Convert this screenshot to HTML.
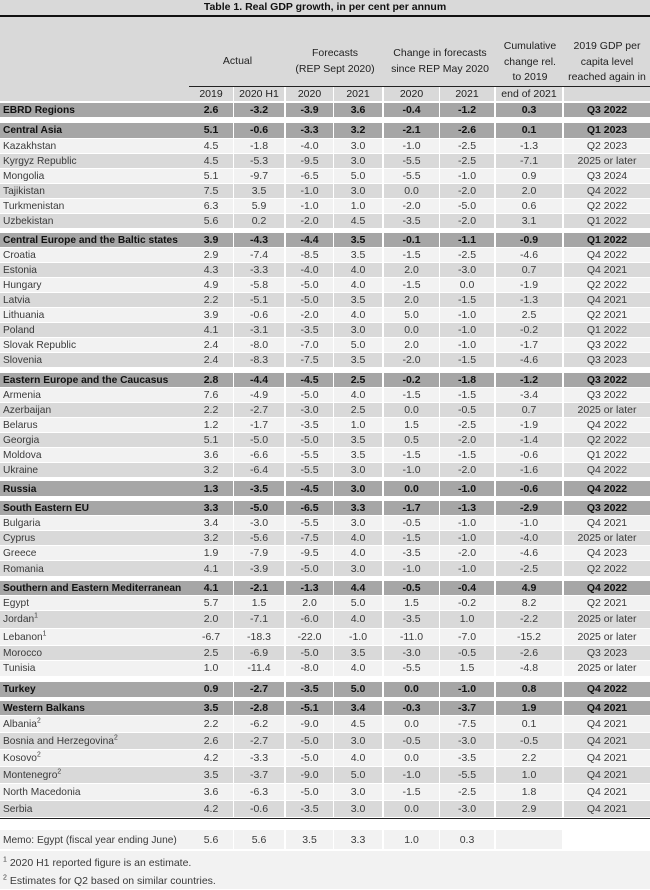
<!DOCTYPE html>
<html><head><meta charset="utf-8">
<style>
*{margin:0;padding:0;box-sizing:border-box}
body{width:650px;height:889px;background:#fff;font-family:"Liberation Sans",sans-serif;font-size:10.5px;color:#3a3a3a;overflow:hidden;position:relative}
.r{position:absolute;left:0;width:650px;display:grid;grid-template-columns:189px 45px 52px 48px 50px 56px 56px 68px 86px;height:15px;align-items:center}
.r>div{text-align:center;border-right:1px solid #fff;white-space:nowrap;overflow:hidden;height:100%;display:flex;align-items:center;justify-content:center;border-bottom:1px solid #fff}
.r>div:first-child{justify-content:flex-start;padding-left:3px;border-right:none}
.r>div:nth-child(3),.r>div:nth-child(5),.r>div:nth-child(7),.r>div:nth-child(8){border-right:2px solid #fff}
.r>div:last-child{border-right:none}
.l>div{background:#f2f2f2}.d>div{background:#d9d9d9}
.h>div{background:#a6a6a6;font-weight:bold;color:#111}
.r>div:first-child span{display:inline-block;transform:scaleX(.97);transform-origin:left}
sup{font-size:7px;line-height:0}
</style></head><body>
<div style="position:absolute;left:0;top:0;width:650px;height:15px;background:#d9d9d9;text-align:center;font-weight:bold;line-height:15px;color:#111;font-size:10.5px">Table 1. Real GDP growth, in per cent per annum</div>
<div style="position:absolute;left:0;top:15px;width:650px;height:2px;background:#111"></div>
<div style="position:absolute;left:0;top:17px;width:650px;height:85px;background:#d9d9d9"></div>
<div style="position:absolute;left:189px;top:86px;width:461px;height:1px;background:#222"></div>
<div style="position:absolute;top:17px;left:0;width:650px;height:70px;font-size:10.5px;color:#222;line-height:15.5px">
 <div style="position:absolute;left:189px;width:97px;top:37px;text-align:center">Actual</div>
 <div style="position:absolute;left:286px;width:98px;top:29px;text-align:center">Forecasts<br>(REP Sept 2020)</div>
 <div style="position:absolute;left:384px;width:112px;top:29px;text-align:center">Change in forecasts<br>since REP May 2020</div>
 <div style="position:absolute;left:496px;width:68px;top:22px;text-align:center">Cumulative<br>change rel.<br>to 2019</div>
 <div style="position:absolute;left:564px;width:86px;top:22px;text-align:center">2019 GDP per<br>capita level<br>reached again in</div>
</div>
<div class="r" style="top:87px;color:#222"><div></div><div>2019</div><div>2020 H1</div><div>2020</div><div>2021</div><div>2020</div><div>2021</div><div>end of 2021</div><div></div></div>
<div class="r h" style="top:102.5px"><div><span>EBRD Regions</span></div><div>2.6</div><div>-3.2</div><div>-3.9</div><div>3.6</div><div>-0.4</div><div>-1.2</div><div>0.3</div><div>Q3 2022</div></div>

<div class="r h" style="top:122.5px;height:16px"><div><span>Central Asia</span></div><div>5.1</div><div>-0.6</div><div>-3.3</div><div>3.2</div><div>-2.1</div><div>-2.6</div><div>0.1</div><div>Q1 2023</div></div>
<div class="r l" style="top:138.5px"><div><span>Kazakhstan</span></div><div>4.5</div><div>-1.8</div><div>-4.0</div><div>3.0</div><div>-1.0</div><div>-2.5</div><div>-1.3</div><div>Q2 2023</div></div>
<div class="r d" style="top:153.5px"><div><span>Kyrgyz Republic</span></div><div>4.5</div><div>-5.3</div><div>-9.5</div><div>3.0</div><div>-5.5</div><div>-2.5</div><div>-7.1</div><div>2025 or later</div></div>
<div class="r l" style="top:168.5px"><div><span>Mongolia</span></div><div>5.1</div><div>-9.7</div><div>-6.5</div><div>5.0</div><div>-5.5</div><div>-1.0</div><div>0.9</div><div>Q3 2024</div></div>
<div class="r d" style="top:183.5px"><div><span>Tajikistan</span></div><div>7.5</div><div>3.5</div><div>-1.0</div><div>3.0</div><div>0.0</div><div>-2.0</div><div>2.0</div><div>Q4 2022</div></div>
<div class="r l" style="top:198.5px"><div><span>Turkmenistan</span></div><div>6.3</div><div>5.9</div><div>-1.0</div><div>1.0</div><div>-2.0</div><div>-5.0</div><div>0.6</div><div>Q2 2022</div></div>
<div class="r d" style="top:213.5px"><div><span>Uzbekistan</span></div><div>5.6</div><div>0.2</div><div>-2.0</div><div>4.5</div><div>-3.5</div><div>-2.0</div><div>3.1</div><div>Q1 2022</div></div>

<div class="r h" style="top:232.5px"><div><span>Central Europe and the Baltic states</span></div><div>3.9</div><div>-4.3</div><div>-4.4</div><div>3.5</div><div>-0.1</div><div>-1.1</div><div>-0.9</div><div>Q1 2022</div></div>
<div class="r l" style="top:247.5px"><div><span>Croatia</span></div><div>2.9</div><div>-7.4</div><div>-8.5</div><div>3.5</div><div>-1.5</div><div>-2.5</div><div>-4.6</div><div>Q4 2022</div></div>
<div class="r d" style="top:262.5px"><div><span>Estonia</span></div><div>4.3</div><div>-3.3</div><div>-4.0</div><div>4.0</div><div>2.0</div><div>-3.0</div><div>0.7</div><div>Q4 2021</div></div>
<div class="r l" style="top:277.5px"><div><span>Hungary</span></div><div>4.9</div><div>-5.8</div><div>-5.0</div><div>4.0</div><div>-1.5</div><div>0.0</div><div>-1.9</div><div>Q2 2022</div></div>
<div class="r d" style="top:292.5px"><div><span>Latvia</span></div><div>2.2</div><div>-5.1</div><div>-5.0</div><div>3.5</div><div>2.0</div><div>-1.5</div><div>-1.3</div><div>Q4 2021</div></div>
<div class="r l" style="top:307.5px"><div><span>Lithuania</span></div><div>3.9</div><div>-0.6</div><div>-2.0</div><div>4.0</div><div>5.0</div><div>-1.0</div><div>2.5</div><div>Q2 2021</div></div>
<div class="r d" style="top:322.5px"><div><span>Poland</span></div><div>4.1</div><div>-3.1</div><div>-3.5</div><div>3.0</div><div>0.0</div><div>-1.0</div><div>-0.2</div><div>Q1 2022</div></div>
<div class="r l" style="top:337.5px"><div><span>Slovak Republic</span></div><div>2.4</div><div>-8.0</div><div>-7.0</div><div>5.0</div><div>2.0</div><div>-1.0</div><div>-1.7</div><div>Q3 2022</div></div>
<div class="r d" style="top:352.5px"><div><span>Slovenia</span></div><div>2.4</div><div>-8.3</div><div>-7.5</div><div>3.5</div><div>-2.0</div><div>-1.5</div><div>-4.6</div><div>Q3 2023</div></div>

<div class="r h" style="top:372.5px"><div><span>Eastern Europe and the Caucasus</span></div><div>2.8</div><div>-4.4</div><div>-4.5</div><div>2.5</div><div>-0.2</div><div>-1.8</div><div>-1.2</div><div>Q3 2022</div></div>
<div class="r l" style="top:387.5px"><div><span>Armenia</span></div><div>7.6</div><div>-4.9</div><div>-5.0</div><div>4.0</div><div>-1.5</div><div>-1.5</div><div>-3.4</div><div>Q3 2022</div></div>
<div class="r d" style="top:402.5px"><div><span>Azerbaijan</span></div><div>2.2</div><div>-2.7</div><div>-3.0</div><div>2.5</div><div>0.0</div><div>-0.5</div><div>0.7</div><div>2025 or later</div></div>
<div class="r l" style="top:417.5px"><div><span>Belarus</span></div><div>1.2</div><div>-1.7</div><div>-3.5</div><div>1.0</div><div>1.5</div><div>-2.5</div><div>-1.9</div><div>Q4 2022</div></div>
<div class="r d" style="top:432.5px"><div><span>Georgia</span></div><div>5.1</div><div>-5.0</div><div>-5.0</div><div>3.5</div><div>0.5</div><div>-2.0</div><div>-1.4</div><div>Q2 2022</div></div>
<div class="r l" style="top:447.5px"><div><span>Moldova</span></div><div>3.6</div><div>-6.6</div><div>-5.5</div><div>3.5</div><div>-1.5</div><div>-1.5</div><div>-0.6</div><div>Q1 2022</div></div>
<div class="r d" style="top:462.5px"><div><span>Ukraine</span></div><div>3.2</div><div>-6.4</div><div>-5.5</div><div>3.0</div><div>-1.0</div><div>-2.0</div><div>-1.6</div><div>Q4 2022</div></div>

<div class="r h" style="top:481px;height:16px"><div><span>Russia</span></div><div>1.3</div><div>-3.5</div><div>-4.5</div><div>3.0</div><div>0.0</div><div>-1.0</div><div>-0.6</div><div>Q4 2022</div></div>

<div class="r h" style="top:501px"><div><span>South Eastern EU</span></div><div>3.3</div><div>-5.0</div><div>-6.5</div><div>3.3</div><div>-1.7</div><div>-1.3</div><div>-2.9</div><div>Q3 2022</div></div>
<div class="r l" style="top:516px"><div><span>Bulgaria</span></div><div>3.4</div><div>-3.0</div><div>-5.5</div><div>3.0</div><div>-0.5</div><div>-1.0</div><div>-1.0</div><div>Q4 2021</div></div>
<div class="r d" style="top:531px"><div><span>Cyprus</span></div><div>3.2</div><div>-5.6</div><div>-7.5</div><div>4.0</div><div>-1.5</div><div>-1.0</div><div>-4.0</div><div>2025 or later</div></div>
<div class="r l" style="top:546px"><div><span>Greece</span></div><div>1.9</div><div>-7.9</div><div>-9.5</div><div>4.0</div><div>-3.5</div><div>-2.0</div><div>-4.6</div><div>Q4 2023</div></div>
<div class="r d" style="top:561px;height:16px"><div><span>Romania</span></div><div>4.1</div><div>-3.9</div><div>-5.0</div><div>3.0</div><div>-1.0</div><div>-1.0</div><div>-2.5</div><div>Q2 2022</div></div>

<div class="r h" style="top:580.5px"><div><span>Southern and Eastern Mediterranean</span></div><div>4.1</div><div>-2.1</div><div>-1.3</div><div>4.4</div><div>-0.5</div><div>-0.4</div><div>4.9</div><div>Q4 2022</div></div>
<div class="r l" style="top:595.5px"><div><span>Egypt</span></div><div>5.7</div><div>1.5</div><div>2.0</div><div>5.0</div><div>1.5</div><div>-0.2</div><div>8.2</div><div>Q2 2021</div></div>
<div class="r d" style="top:610.5px;height:18px"><div><span>Jordan<sup>1</sup></span></div><div>2.0</div><div>-7.1</div><div>-6.0</div><div>4.0</div><div>-3.5</div><div>1.0</div><div>-2.2</div><div>2025 or later</div></div>
<div class="r l" style="top:628.5px;height:17px"><div><span>Lebanon<sup>1</sup></span></div><div>-6.7</div><div>-18.3</div><div>-22.0</div><div>-1.0</div><div>-11.0</div><div>-7.0</div><div>-15.2</div><div>2025 or later</div></div>
<div class="r d" style="top:645.5px"><div><span>Morocco</span></div><div>2.5</div><div>-6.9</div><div>-5.0</div><div>3.5</div><div>-3.0</div><div>-0.5</div><div>-2.6</div><div>Q3 2023</div></div>
<div class="r l" style="top:660.5px;height:16px"><div><span>Tunisia</span></div><div>1.0</div><div>-11.4</div><div>-8.0</div><div>4.0</div><div>-5.5</div><div>1.5</div><div>-4.8</div><div>2025 or later</div></div>

<div class="r h" style="top:681.5px;height:16px"><div><span>Turkey</span></div><div>0.9</div><div>-2.7</div><div>-3.5</div><div>5.0</div><div>0.0</div><div>-1.0</div><div>0.8</div><div>Q4 2022</div></div>

<div class="r h" style="top:700.5px"><div><span>Western Balkans</span></div><div>3.5</div><div>-2.8</div><div>-5.1</div><div>3.4</div><div>-0.3</div><div>-3.7</div><div>1.9</div><div>Q4 2021</div></div>
<div class="r l" style="top:715.5px;height:17px"><div><span>Albania<sup>2</sup></span></div><div>2.2</div><div>-6.2</div><div>-9.0</div><div>4.5</div><div>0.0</div><div>-7.5</div><div>0.1</div><div>Q4 2021</div></div>
<div class="r d" style="top:732.5px;height:17px"><div><span>Bosnia and Herzegovina<sup>2</sup></span></div><div>2.6</div><div>-2.7</div><div>-5.0</div><div>3.0</div><div>-0.5</div><div>-3.0</div><div>-0.5</div><div>Q4 2021</div></div>
<div class="r l" style="top:749.5px;height:17px"><div><span>Kosovo<sup>2</sup></span></div><div>4.2</div><div>-3.3</div><div>-5.0</div><div>4.0</div><div>0.0</div><div>-3.5</div><div>2.2</div><div>Q4 2021</div></div>
<div class="r d" style="top:766.5px;height:17px"><div><span>Montenegro<sup>2</sup></span></div><div>3.5</div><div>-3.7</div><div>-9.0</div><div>5.0</div><div>-1.0</div><div>-5.5</div><div>1.0</div><div>Q4 2021</div></div>
<div class="r l" style="top:783.5px;height:17px"><div><span>North Macedonia</span></div><div>3.6</div><div>-6.3</div><div>-5.0</div><div>3.0</div><div>-1.5</div><div>-2.5</div><div>1.8</div><div>Q4 2021</div></div>
<div class="r d" style="top:800.5px;height:17px"><div><span>Serbia</span></div><div>4.2</div><div>-0.6</div><div>-3.5</div><div>3.0</div><div>0.0</div><div>-3.0</div><div>2.9</div><div>Q4 2021</div></div>

<div style="position:absolute;left:0;top:818px;width:650px;height:1px;background:#222"></div>
<div class="r l" style="top:830px;height:20px"><div><span>Memo: Egypt (fiscal year ending June)</span></div><div>5.6</div><div>5.6</div><div>3.5</div><div>3.3</div><div>1.0</div><div>0.3</div><div></div><div style="background:#fff"></div></div>
<div style="position:absolute;left:0;top:851px;width:650px;height:38px;background:#f2f2f2;font-size:10.5px;line-height:18px;padding-left:3px;padding-top:3px"><div><sup>1</sup> 2020 H1 reported figure is an estimate.</div><div><sup>2</sup> Estimates for Q2 based on similar countries.</div></div>
</body></html>
